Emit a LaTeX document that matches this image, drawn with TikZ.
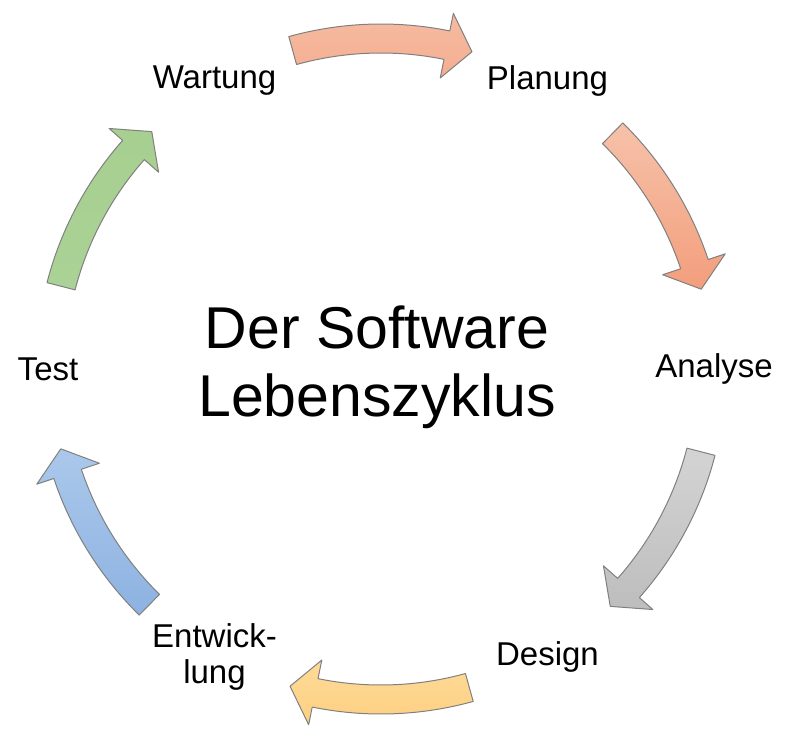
\documentclass[tikz,border=0pt]{standalone}
\usepackage{fontspec}
\setmainfont{Liberation Sans}
\usepackage{xcolor}
\usepackage{tikz}
\usetikzlibrary{positioning}

\definecolor{planA}{HTML}{F6BBA1}
\definecolor{planB}{HTML}{F4AE91}
\definecolor{anaA}{HTML}{F6C2AA}
\definecolor{anaB}{HTML}{F39E7C}
\definecolor{desA}{HTML}{D4D4D4}
\definecolor{desB}{HTML}{BDBDBD}
\definecolor{entA}{HTML}{FFDA97}
\definecolor{entB}{HTML}{FDD083}
\definecolor{testA}{HTML}{ABC8EB}
\definecolor{testB}{HTML}{8DB2E1}
\definecolor{wartA}{HTML}{A6CF90}
\definecolor{wartB}{HTML}{ABD296}

\begin{document}
\begin{tikzpicture}[x=0.5pt, y=0.5pt]
		\tikzstyle{phase} = [draw=none, align=center, font=\fontsize{16.5}{18}\selectfont]
		\tikzstyle{title} = [draw=none, align=center, font=\fontsize{29.5}{34}\selectfont]
		\tikzstyle{cycarrow} = [draw=black!50, line width=0.5pt, line join=round]
		
		\useasboundingbox (0,0) rectangle (796,751);
		
		\begin{scope}[shift={(381,382)}]
		% curved arrows of the cycle
		\foreach \a/\ca/\cb in {90/planA/planB, 30/anaA/anaB, -30/desA/desB, -90/entA/entB, -150/testA/testB, 150/wartA/wartB}
			\draw[cycarrow, top color=\ca, bottom color=\cb]
			({\a+15.5}:345) arc[start angle={\a+15.5}, end angle={\a-11.5}, radius=345]
			-- ({\a-11.5}:363) -- ({\a-16}:330) -- ({\a-11.5}:297) -- ({\a-11.5}:316)
			arc[start angle={\a-11.5}, end angle={\a+15.5}, radius=316] -- cycle;
		
		\node[title] 	at (-4, 2) 		(title) 	{Der Software\\Lebenszyklus};
		\node[phase] 	at (60:333) 	(plan) 	{Planung};
		\node[phase] 	at (0:333) 		(ana) 	{Analyse};
		\node[phase] 	at (-60:333) 	(des) 	{Design};
		\node[phase] 	at (-120:333) 	(ent) 	{Entwick-\\lung};
		\node[phase] 	at (180:333) 	(test) 	{Test};
		\node[phase] 	at (120:333) 	(wart) 	{Wartung};
		\end{scope}
		\end{tikzpicture}
\end{document}
